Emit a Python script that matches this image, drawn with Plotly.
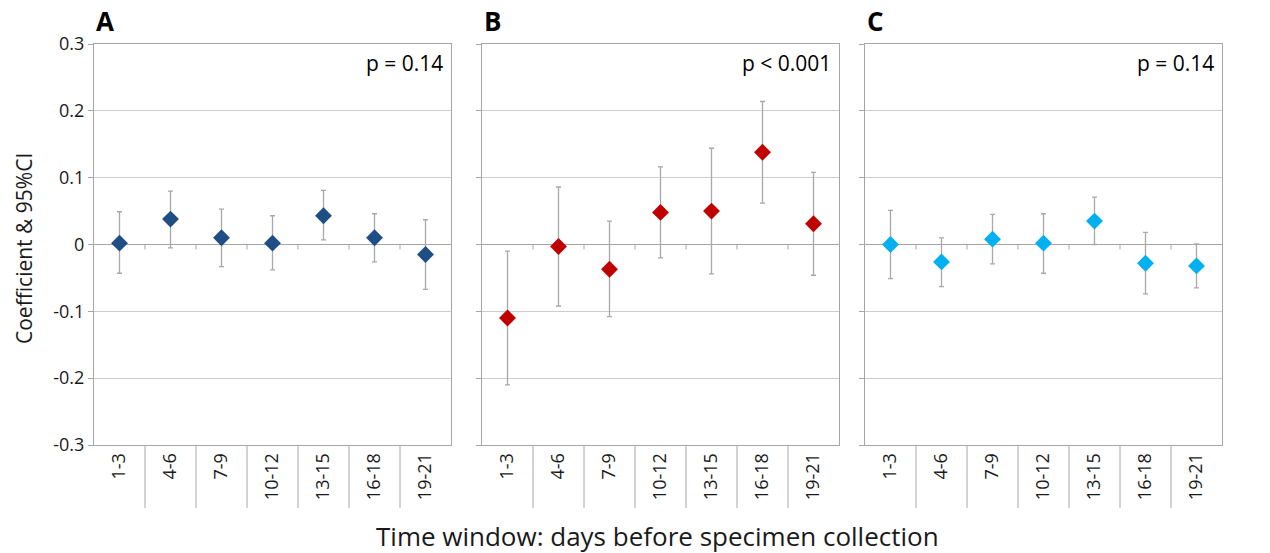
import plotly.graph_objects as go

categories = ["1-3", "4-6", "7-9", "10-12", "13-15", "16-18", "19-21"]

a_coef = [0.002, 0.038, 0.010, 0.002, 0.043, 0.010, -0.015]
a_upper = [0.049, 0.080, 0.053, 0.043, 0.081, 0.046, 0.037]
a_lower = [-0.043, -0.005, -0.033, -0.038, 0.007, -0.026, -0.067]

b_coef = [-0.110, -0.003, -0.037, 0.048, 0.050, 0.138, 0.031]
b_upper = [-0.010, 0.086, 0.035, 0.116, 0.144, 0.214, 0.108]
b_lower = [-0.210, -0.092, -0.108, -0.020, -0.044, 0.062, -0.046]

c_coef = [0.000, -0.026, 0.008, 0.002, 0.035, -0.028, -0.032]
c_upper = [0.051, 0.010, 0.045, 0.046, 0.071, 0.018, 0.001]
c_lower = [-0.051, -0.063, -0.029, -0.043, 0.000, -0.074, -0.065]

panel_labels = ["A", "B", "C"]
p_texts = ["p = 0.14", "p < 0.001", "p = 0.14"]
colors = ["#1F4E85", "#C00000", "#00B0F0"]
y_ticks = [-0.3, -0.2, -0.1, 0, 0.1, 0.2, 0.3]
y_ticktext = ["-0.3", "-0.2", "-0.1", "0", "0.1", "0.2", "0.3"]

FONT = "Open Sans"
W, H = 1270, 553
x_doms = [(94 / W, 451 / W), (482 / W, 839 / W), (865 / W, 1222 / W)]
y_dom = (1 - 445 / H, 1 - 44 / H)
y_zero = (y_dom[0] + y_dom[1]) / 2
GRID = "#CCCCCC"
LINE = "#A6A6A6"
ERR = "#A8A8A8"
TXT = "#1A1A1A"

series = [(a_coef, a_upper, a_lower), (b_coef, b_upper, b_lower), (c_coef, c_upper, c_lower)]

fig = go.Figure()
layout = {}
shapes = []
boundaries = [i + 0.5 for i in range(len(categories) - 1)]

for k, (coef, up, lo) in enumerate(series):
    n = k + 1
    xa = "x" if n == 1 else f"x{n}"
    ya = "y" if n == 1 else f"y{n}"
    fig.add_trace(go.Scatter(
        x=categories, y=coef, mode="markers", xaxis=xa, yaxis=ya,
        marker=dict(symbol="diamond", size=13, color=colors[k]),
        error_y=dict(type="data", symmetric=False,
                     array=[u - c for u, c in zip(up, coef)],
                     arrayminus=[c - l for c, l in zip(coef, lo)],
                     color=ERR, thickness=1.3, width=2.5),
        showlegend=False,
    ))
    xkey = "xaxis" if n == 1 else f"xaxis{n}"
    ykey = "yaxis" if n == 1 else f"yaxis{n}"
    layout[xkey] = dict(
        domain=list(x_doms[k]), anchor=ya, type="category",
        categoryarray=categories, range=[-0.5, 6.5],
        showgrid=False, zeroline=False, showline=True, mirror=True,
        linecolor=LINE, linewidth=1, ticks="", tickangle=-90,
        tickfont=dict(family=FONT, size=18, color=TXT),
        fixedrange=True, automargin=False,
    )
    layout[ykey] = dict(
        domain=list(y_dom), anchor=xa, range=[-0.3, 0.3],
        tickvals=y_ticks, ticktext=y_ticktext,
        showgrid=True, gridcolor=GRID, gridwidth=1,
        zeroline=True, zerolinecolor=LINE, zerolinewidth=1,
        showline=True, mirror=True, linecolor=LINE, linewidth=1,
        ticks="outside", ticklen=5, tickcolor=LINE,
        showticklabels=(n == 1),
        tickfont=dict(family=FONT, size=18, color=TXT),
        fixedrange=True, automargin=False,
    )
    for b in boundaries:
        # category separators below the axis
        shapes.append(dict(type="line", xref=xa, yref="paper", x0=b, x1=b,
                           y0=y_dom[0], y1=y_dom[0] - 63 / H,
                           line=dict(color=LINE, width=1), layer="above"))
        # small ticks under the zero line
        shapes.append(dict(type="line", xref=xa, yref="paper", x0=b, x1=b,
                           y0=y_zero, y1=y_zero - 5 / H,
                           line=dict(color=LINE, width=1), layer="below"))

# right-side labels for panel C
layout["yaxis4"] = dict(
    overlaying="y3", anchor="x3", side="right", range=[-0.3, 0.3],
    tickvals=y_ticks, ticktext=y_ticktext, showgrid=False, zeroline=False,
    showline=False, ticks="", tickfont=dict(family=FONT, size=18, color=TXT),
    fixedrange=True, automargin=False,
)

annotations = []
for k in range(3):
    annotations.append(dict(
        x=x_doms[k][0], y=1 - 21 / H, xref="paper", yref="paper",
        text=f"<b>{panel_labels[k]}</b>", showarrow=False, xanchor="left", yanchor="middle",
        font=dict(family=FONT, size=26, color="#000000"),
    ))
    annotations.append(dict(
        x=x_doms[k][1] - 6 / W, y=1 - 63 / H, xref="paper", yref="paper",
        text=p_texts[k], showarrow=False, xanchor="right", yanchor="middle",
        font=dict(family=FONT, size=21, color="#000000"),
    ))
annotations.append(dict(
    x=24 / W, y=1 - 249 / H, xref="paper", yref="paper",
    text="Coefficient &amp; 95%CI", textangle=-90, showarrow=False,
    xanchor="center", yanchor="middle",
    font=dict(family=FONT, size=21, color=TXT),
))
annotations.append(dict(
    x=657 / W, y=1 - 536 / H, xref="paper", yref="paper",
    text="Time window: days before specimen collection", showarrow=False,
    xanchor="center", yanchor="middle",
    font=dict(family=FONT, size=26, color=TXT),
))

fig.update_layout(
    width=W, height=H, margin=dict(l=0, r=0, t=0, b=0, autoexpand=False),
    paper_bgcolor="white", plot_bgcolor="white",
    annotations=annotations, shapes=shapes, **layout,
)

fig.write_html(
    "out.html",
    config={"displayModeBar": False},
    post_script="document.body.style.margin='0';document.body.style.overflow='hidden';",
)
